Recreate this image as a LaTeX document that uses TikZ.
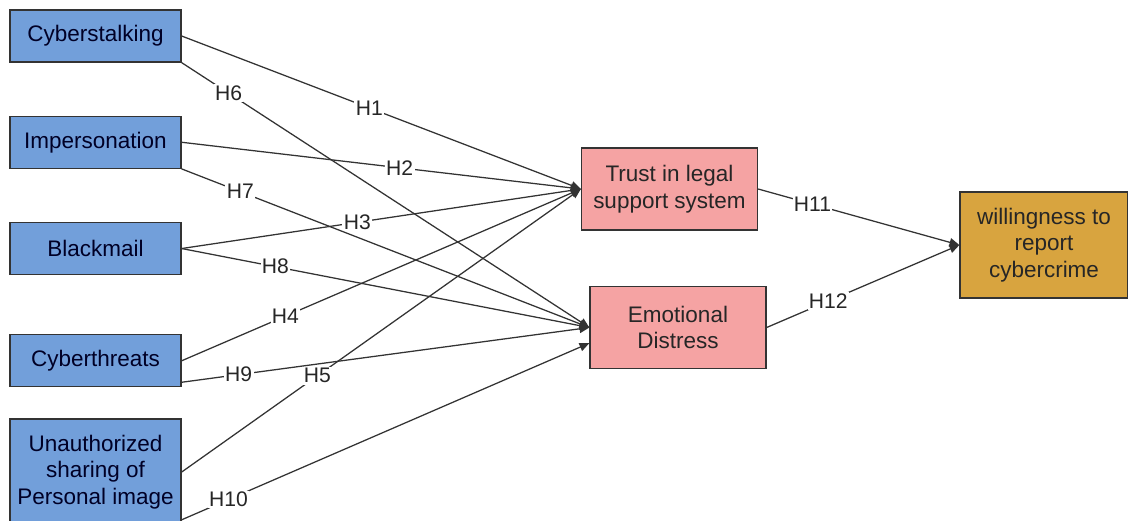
\documentclass[tikz,border=0pt]{standalone}
\usepackage{fontspec}
\setmainfont{Liberation Sans}
\usetikzlibrary{positioning, arrows.meta}
\definecolor{causeblue}{HTML}{729FDA}
\definecolor{mediapink}{HTML}{F5A3A3}
\definecolor{outgold}{HTML}{D8A43F}
\definecolor{edgegray}{HTML}{333333}
\tikzset{
  cause/.style   = {draw=black!80, line width=0.9pt, fill=causeblue, minimum width=4.275cm, minimum height=1.3cm, align=center, font=\fontsize{16}{19}\selectfont, text=black!85!blue},
  mediator/.style = {draw=black!80, line width=0.9pt, fill=mediapink, minimum width=4.4cm, minimum height=2.05cm, align=center, font=\fontsize{16}{19}\selectfont, text=black!85},
  outcome/.style = {draw=black!80, line width=0.9pt, fill=outgold, minimum width=4.2cm, minimum height=2.65cm, align=center, font=\fontsize{16}{19}\selectfont, text=black!85},
  hyp/.style     = {fill=white, inner sep=1pt, font=\fontsize{15}{18}\selectfont, text=black!85},
  arrow/.style   = {-{Triangle[length=7pt, width=6pt]}, line width=0.9pt, draw=edgegray}
}
\begin{document}
\begin{tikzpicture}
  \useasboundingbox (0,0) rectangle (28.2,-13.025);
  % independent variables
  \node[cause] (cs) at (2.3875,-0.9) {Cyberstalking};
  \node[cause, below=1.325cm of cs] (im) {Impersonation};
  \node[cause, below=1.325cm of im] (bm) {Blackmail};
  \node[cause, below=1.475cm of bm] (ct) {Cyberthreats};
  \node[cause, below=0.775cm of ct, minimum height=2.65cm] (ui) {Unauthorized\\ sharing of\\ Personal image};
  % mediators and outcome
  \node[mediator] (tl) at (16.7375,-4.725) {Trust in legal\\ support system};
  \node[mediator] (ed) at (16.95,-8.1875) {Emotional\\ Distress};
  \node[outcome] (wr) at (26.1,-6.125) {willingness to\\ report\\ cybercrime};

  \draw[arrow] (cs.east) -- node[hyp, pos=0.47] {H1} (tl.west);
  \draw[arrow] (im.east) -- node[hyp, pos=0.546] {H2} (tl.west);
  \draw[arrow] (bm.east) -- node[hyp, pos=0.44] {H3} (tl.west);
  \draw[arrow] (ct.east) -- node[hyp, pos=0.26] {H4} (tl.west);
  \draw[arrow] (ui.east) -- node[hyp, pos=0.34] {H5} (tl.west);
  \draw[arrow] (cs.south east) -- node[hyp, pos=0.115] {H6} (ed.west);
  \draw[arrow] (im.south east) -- node[hyp, pos=0.144] {H7} (ed.west);
  \draw[arrow] (bm.east) -- node[hyp, pos=0.23] {H8} (ed.west);
  \draw[arrow] (ct.-14) -- node[hyp, pos=0.14] {H9} (ed.west);
  \draw[arrow] (ui.-29) -- node[hyp, pos=0.115] {H10} (ed.190);
  \draw[arrow] (tl.east) -- node[hyp, pos=0.27] {H11} (wr.west);
  \draw[arrow] (ed.east) -- node[hyp, pos=0.32] {H12} (wr.west);
\end{tikzpicture}
\end{document}
